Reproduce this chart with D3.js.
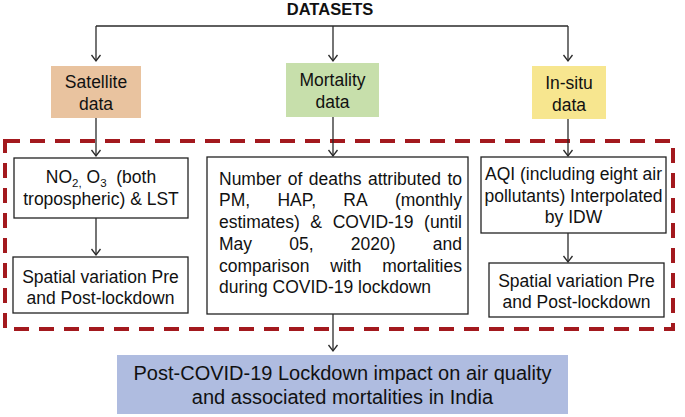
<!DOCTYPE html>
<html><head><meta charset="utf-8">
<script src="https://cdn.jsdelivr.net/npm/d3@7"></script>
<style>body{margin:0;background:#fff}svg{display:block}text{font-family:"Liberation Sans",Arial,sans-serif;fill:#111}</style>
</head><body><svg id="c" width="685" height="417"></svg>
<script>
// ---- content ----
const title = "DATASETS";
const datasetLabels = [["Satellite","data"],["Mortality","data"],["In-situ","data"]];
const leftLabels = [["NO2, O3 (both","tropospheric) & LST"],["Spatial variation Pre","and Post-lockdown"]];
const middleLines = ["Number of deaths attributed to","PM, HAP, RA (monthly","estimates) & COVID-19 (until","May 05, 2020) and","comparison with mortalities","during COVID-19 lockdown"];
const rightLabels = [["AQI (including eight air","pollutants) Interpolated","by IDW"],["Spatial variation Pre","and Post-lockdown"]];
const resultLabel = ["Post-COVID-19 Lockdown impact on air quality","and associated mortalities in India"];

// ---- layout ----
const fills = ["#e9c39f","#c7dfab","#f7e68f"];
const dsBoxes = [{x:51,y:66,w:90,h:52},{x:286,y:63,w:93,h:54},{x:532,y:66,w:74,h:53}];
const colX = [96,333,568];
const svg = d3.select("#c");
const ink = "#2a2a2a";
const FS = 17.5;

svg.append("defs").append("marker").attr("id","ah").attr("viewBox","-10 -6 12 12")
  .attr("refX",0).attr("refY",0).attr("markerWidth",12).attr("markerHeight",12)
  .attr("markerUnits","userSpaceOnUse").attr("orient","auto")
  .append("path").attr("d","M-6,-4.5L0,0L-6,4.5").attr("fill","none").attr("stroke",ink).attr("stroke-width",1.3);

function arrow(x,y1,y2){svg.append("line").attr("x1",x).attr("x2",x).attr("y1",y1).attr("y2",y2)
  .attr("stroke",ink).attr("stroke-width",1.3).attr("marker-end","url(#ah)");}

// dashed frame
svg.append("rect").attr("x",5).attr("y",141).attr("width",668).attr("height",188)
  .attr("fill","none").attr("stroke","#a3191e").attr("stroke-width",4).attr("stroke-dasharray","15,10");

// title
svg.append("text").attr("x",330).attr("y",15).attr("text-anchor","middle")
  .attr("font-weight","bold").attr("font-size",16.5).text(title);

// top connector
svg.append("line").attr("x1",colX[0]).attr("x2",colX[2]).attr("y1",26).attr("y2",26).attr("stroke",ink).attr("stroke-width",1.3);
colX.forEach(x=>arrow(x,26,61));

function lines(cx,baselines,texts,size){
  texts.forEach((t,i)=>svg.append("text").attr("x",cx).attr("y",baselines[i]).attr("text-anchor","middle").attr("font-size",size||FS).text(t));
}

dsBoxes.forEach((b,i)=>{
  svg.append("rect").attr("x",b.x).attr("y",b.y).attr("width",b.w).attr("height",b.h).attr("fill",fills[i]);
  const cy=b.y+b.h/2;
  lines(b.x+b.w/2,[cy-4,cy+18],datasetLabels[i]);
});

// arrows datasets -> inner boxes
arrow(colX[0],118,156);
arrow(colX[1],117,156);
arrow(colX[2],119,156);

function box(x,y,w,h,fill){svg.append("rect").attr("x",x).attr("y",y).attr("width",w).attr("height",h)
  .attr("fill",fill||"#fff").attr("stroke","#222").attr("stroke-width",1.3);}

// left column
box(14,158,174,60);
{ // NO2, O3 line with subscripts
  const t=svg.append("text").attr("x",101).attr("y",183).attr("text-anchor","middle").attr("font-size",FS);
  t.append("tspan").text("NO");
  t.append("tspan").attr("font-size",11.5).attr("dy",4).text("2,");
  t.append("tspan").attr("dy",-4).text(" O");
  t.append("tspan").attr("font-size",11.5).attr("dy",4).text("3");
  t.append("tspan").attr("dy",-4).text("\u00a0 (both");
  svg.append("text").attr("x",101).attr("y",205).attr("text-anchor","middle").attr("font-size",FS).text(leftLabels[0][1]);
}
arrow(colX[0],218,255);
box(13,257,175,56);
lines(100.5,[283,304],leftLabels[1]);

// middle column (justified)
box(207,157,261,157);
const mL=219, mR=462, mBase=[185,206,228,250,272,293];
middleLines.forEach((ln,i)=>{
  const words=ln.split(" ");
  const t=svg.append("text").attr("y",mBase[i]).attr("font-size",FS);
  if(i===middleLines.length-1){t.attr("x",mL).text(ln);return;}
  const sp=words.map(w=>t.append("tspan").text(w));
  const ws=sp.map(s=>s.node().getComputedTextLength());
  const total=d3.sum(ws);
  const gap=(mR-mL-total)/(words.length-1);
  let x=mL;
  sp.forEach((s,j)=>{s.attr("x",x);x+=ws[j]+gap;});
});
arrow(colX[1],314,351);

// right column
box(481,157,185,76);
lines(573.5,[180,202,223],rightLabels[0]);
arrow(colX[2],233,262);
box(489,263,175,54);
lines(576.5,[287,308],rightLabels[1]);

// result box
svg.append("rect").attr("x",117).attr("y",355).attr("width",451).attr("height",59).attr("fill","#afbce0");
lines(342.5,[380,404],resultLabel,20);
</script></body></html>
